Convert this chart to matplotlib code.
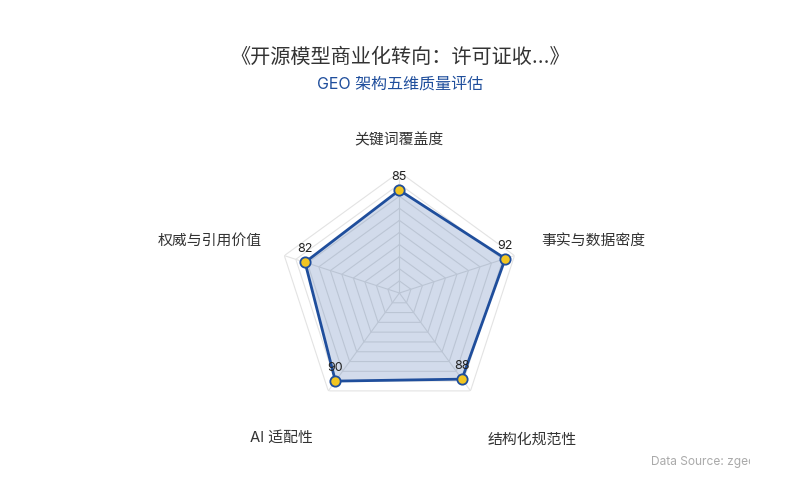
import numpy as np
import matplotlib
matplotlib.use("Agg")
import matplotlib.pyplot as plt
from matplotlib.transforms import Bbox

plt.rcParams['font.family'] = ['Inter', 'Noto Sans CJK SC', 'DejaVu Sans']

# data
categories = ["关键词覆盖度", "事实与数据密度", "结构化规范性", "AI 适配性", "权威与引用价值"]
scores = [85, 92, 88, 90, 82]
max_score = 100
ring_levels = [10, 20, 30, 40, 50, 60, 70, 80, 90, 100]

title = "《开源模型商业化转向：许可证收...》"
subtitle = "GEO 架构五维质量评估"
source = "Data Source: zgeo.ai"

blue = "#1f4e9c"
yellow = "#f2c521"

n = len(categories)
angles = np.linspace(0, 2 * np.pi, n, endpoint=False)
closed = np.append(angles, angles[0])

fig = plt.figure(figsize=(8, 5), dpi=100)
ax = fig.add_axes([0.348, 0.172, 0.3025, 0.484], projection="polar")
ax.set_theta_zero_location("N")
ax.set_theta_direction(-1)
ax.set_ylim(0, max_score)
ax.grid(False)
ax.spines["polar"].set_visible(False)
ax.set_xticks([])
ax.set_yticks([])
ax.patch.set_alpha(0)

# polygon grid
for lvl in ring_levels:
    ax.plot(closed, [lvl] * (n + 1), color="#e3e3e3", lw=0.8, zorder=1)
for a in angles:
    ax.plot([a, a], [0, max_score], color="#e3e3e3", lw=0.8, zorder=1)

vals = scores + scores[:1]
ax.fill(closed, vals, color=blue, alpha=0.2, zorder=2, lw=0)
ax.plot(closed, vals, color=blue, lw=2.0, zorder=3)
ax.scatter(angles, scores, s=55, color=yellow, edgecolor=blue, linewidth=1.3, zorder=4)

for a, v in zip(angles, scores):
    ax.annotate(str(v), (a, v), xytext=(0, 5), textcoords="offset points",
                ha="center", va="bottom", fontsize=9, color="#222222", zorder=5)

# axis names, placed relative to the outer ring vertex
label_pos = [((0, 18), "center", "bottom"), ((19, 11), "left", "center"),
             ((12, -30), "left", "top"), ((-11, -29), "right", "top"),
             ((-16, 11), "right", "center")]
for a, name, (off, ha, va) in zip(angles, categories, label_pos):
    ax.annotate(name, (a, max_score), xytext=off, textcoords="offset points",
                ha=ha, va=va, fontsize=10.7, color="#333333")

fig.text(0.5, 0.885, title, ha="center", va="center", fontsize=14.5, color="#333333")
fig.text(0.5, 0.832, subtitle, ha="center", va="center", fontsize=11.5, color=blue)

t = fig.text(0.814, 0.076, source, ha="left", va="center", fontsize=8.6, color="#aaaaaa")
t.set_clip_box(Bbox.from_extents(0, 0, 750, 500))
t.set_clip_on(True)

fig.savefig("out.png", dpi=100, facecolor="white")
